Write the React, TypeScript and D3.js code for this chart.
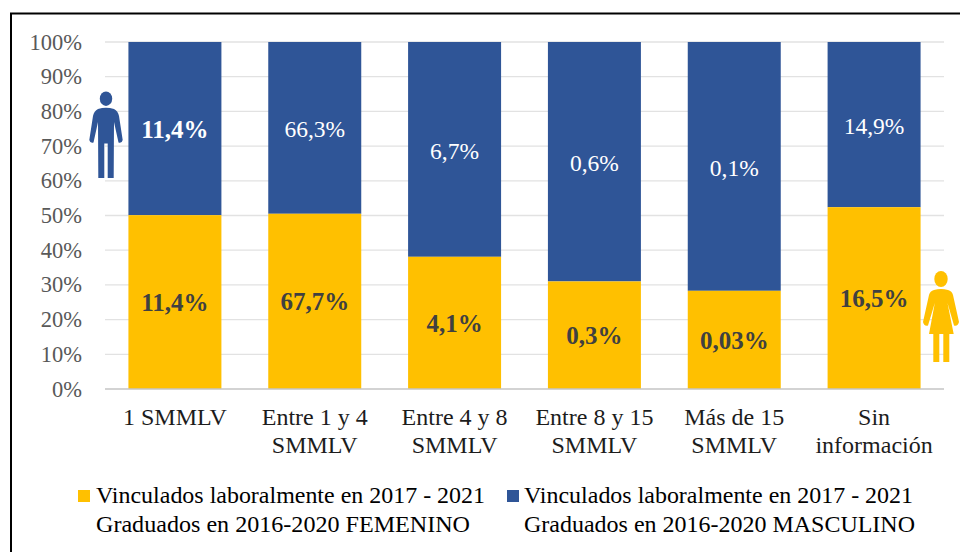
import React from "react";
import * as d3 from "d3";

const categories = ["c1", "c2", "c3", "c4", "c5", "c6"];
const categoryLines = [["1 SMMLV"], ["Entre 1 y 4", "SMMLV"], ["Entre 4 y 8", "SMMLV"], ["Entre 8 y 15", "SMMLV"], ["Más de 15", "SMMLV"], ["Sin", "información"]];
const femaleShare = [50.1, 50.5, 38.1, 31.0, 28.3, 52.4];
const femaleLabels = ["11,4%", "67,7%", "4,1%", "0,3%", "0,03%", "16,5%"];
const maleLabels = ["11,4%", "66,3%", "6,7%", "0,6%", "0,1%", "14,9%"];
const maleBold = [true, false, false, false, false, false];
const ticks = [0, 10, 20, 30, 40, 50, 60, 70, 80, 90, 100];
const legendFemale = ["Vinculados laboralmente en 2017 - 2021", "Graduados en 2016-2020 FEMENINO"];
const legendMale = ["Vinculados laboralmente en 2017 - 2021", "Graduados en 2016-2020 MASCULINO"];

const BLUE = "#2F5597";
const GOLD = "#FFC000";
const FONT = "'Liberation Serif', serif";

export default function App() {
  const x = d3.scaleBand().domain(categories).range([105, 944]).paddingInner(0.335).paddingOuter(0.1675);
  const y = d3.scaleLinear().domain([0, 100]).range([389, 42]);
  return (
    <svg width={960} height={552} style={{ position: "absolute", left: 0, top: 0, background: "#fff" }} fontFamily={FONT}>
      <path d="M11 552V13.5H960" fill="none" stroke="#000" strokeWidth={2} />
      {ticks.map((t) => (
        <g key={t}>
          {t > 0 && <line x1={105} x2={944} y1={y(t)} y2={y(t)} stroke="#E2E2E2" strokeWidth={1.3} />}
          <text x={82} y={y(t) + 7.5} textAnchor="end" fontSize={22.5} fill="#595959">{t}%</text>
        </g>
      ))}
      {categories.map((c, i) => {
        const bx = x(c)!;
        const w = x.bandwidth();
        const cx = bx + w / 2;
        const ySplit = y(femaleShare[i]);
        return (
          <g key={c}>
            <rect x={bx} width={w} y={y(100)} height={ySplit - y(100)} fill={BLUE} />
            <rect x={bx} width={w} y={ySplit} height={y(0) - ySplit} fill={GOLD} />
            <text x={cx} y={(y(100) + ySplit) / 2 + 9.5} textAnchor="middle" fontSize={maleBold[i] ? 25 : 23.5} fill="#fff" fontWeight={maleBold[i] ? 700 : 400}>{maleLabels[i]}</text>
            <text x={cx} y={(ySplit + y(0)) / 2 + 9} textAnchor="middle" fontSize={25} fill="#404040" fontWeight={700}>{femaleLabels[i]}</text>
            {categoryLines[i].map((line, j) => (
              <text key={j} x={cx} y={425 + j * 28.4} textAnchor="middle" fontSize={24} fill="#1c1c1c">{line}</text>
            ))}
          </g>
        );
      })}
      <line x1={105} x2={944} y1={y(0)} y2={y(0)} stroke="#C4C4C4" strokeWidth={1.3} />
      {/* man */}
      <g fill={BLUE}>
        <ellipse cx={106} cy={98.700} rx={6.200} ry={7.200} />
        <path d="M98 109 Q106 106.500 114 109 Q118 111 119 116 L122.700 140 Q122 143.500 118.500 142.500 L114 122 L113.700 178 L107.700 178 L107.700 143.500 L104.300 143.500 L104.300 178 L98.300 178 L98 122 L93.500 142.500 Q90 143.500 89.300 140 L93 116 Q94 111 98 109Z" />
      </g>
      {/* woman */}
      <g fill={GOLD}>
        <ellipse cx={941} cy={279} rx={6.700} ry={8} />
        <path d="M934 290 Q941 288 948 290 Q952 291 953 295 L959 322 Q958 326.500 954 325.500 L947.500 303 L953.700 334 L949.300 334 L949.300 362 L943.300 362 L943.300 334 L939.300 334 L939.300 362 L933.300 362 L933.300 334 L929 334 L934.800 303 L928 325.500 Q924 326.500 923 322 L929 295 Q930 291 934 290Z" />
      </g>
      {/* legend */}
      <rect x={78} y={490} width={12} height={12} fill={GOLD} />
      <rect x={507} y={490} width={12} height={12} fill={BLUE} />
      {legendFemale.map((l, i) => (
        <text key={i} x={96} y={503 + i * 28.5} fontSize={24} fill="#000" textLength={[389, 374][i]} lengthAdjust="spacingAndGlyphs">{l}</text>
      ))}
      {legendMale.map((l, i) => (
        <text key={i} x={524} y={503 + i * 28.5} fontSize={24} fill="#000" textLength={[389, 391][i]} lengthAdjust="spacingAndGlyphs">{l}</text>
      ))}
    </svg>
  );
}
